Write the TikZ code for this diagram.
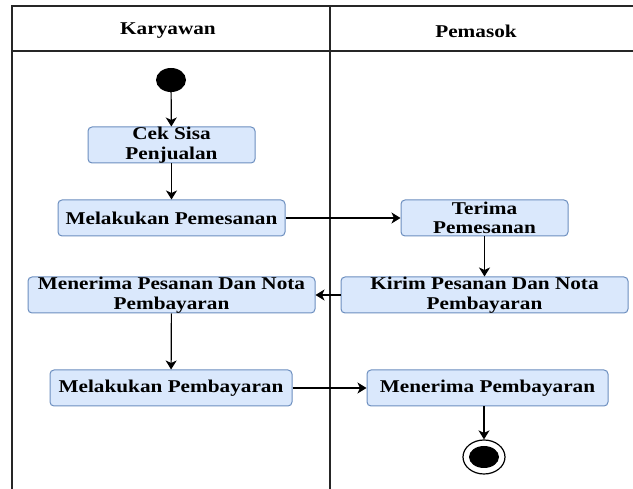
\documentclass[tikz,border=0pt]{standalone}
\usepackage{fontspec}
\setmainfont{Liberation Serif}[FakeStretch=1.18]
\usetikzlibrary{arrows.meta,shapes.geometric}
\definecolor{actfill}{HTML}{DAE8FC}
\definecolor{actline}{HTML}{6C8EBF}
\tikzset{
	act/.style={draw=actline, fill=actfill, line width=1pt, rounded corners=4pt, minimum height=36pt, inner sep=0pt, align=center, font=\fontsize{18}{19.5}\selectfont\bfseries},
	lane/.style={line width=1.4pt, color=black!85},
	flow/.style={line width=1.2pt, -{Stealth[length=9pt, width=11pt, inset=2.5pt]}},
}

\begin{document}
\begin{tikzpicture}[x=1pt, y=-1pt]
			%%%%% START %%%%%
			\useasboundingbox (0, 0) rectangle (633, 489);
			
			% swimlanes
			\draw[lane] (12, 489) -- (12, 6) -- (633, 6);
			\draw[lane] (12, 51) -- (633, 51);
			\draw[lane] (330, 6) -- (330, 489);
			\node[font=\fontsize{18}{19.5}\selectfont\bfseries] (karyawan) at (168, 31) {Karyawan};
			\node[font=\fontsize{18}{19.5}\selectfont\bfseries] (pemasok) at (476, 31) {Pemasok};
			
			% Karyawan
			\node[ellipse, fill=black, minimum width=30pt, minimum height=24pt, inner sep=0pt] (start) at (171, 80) {};
			\node[act, minimum width=167pt] (cek) at (171.5, 145) {Cek Sisa\\Penjualan};
			\node[act, minimum width=227pt] (pesan) at (171.5, 218) {Melakukan Pemesanan};
			\node[act, minimum width=287pt] (terimanota) at (171.5, 295) {Menerima Pesanan Dan Nota\\Pembayaran};
			\node[act, minimum width=242pt] (bayar) at (171, 388) {Melakukan Pembayaran};
			
			% Pemasok
			\node[act, minimum width=167pt] (terima) at (484.5, 218) {Terima\\Pemesanan};
			\node[act, minimum width=287pt] (kirim) at (484.5, 295) {Kirim Pesanan Dan Nota\\Pembayaran};
			\node[act, minimum width=241pt] (terimabayar) at (487.5, 388) {Menerima Pembayaran};
			\node[ellipse, draw=black, line width=1.2pt, minimum width=42pt, minimum height=34pt, inner sep=0pt] (end) at (484, 457) {};
			\node[ellipse, fill=black, minimum width=30pt, minimum height=22pt, inner sep=0pt] (endin) at (484, 457) {};
			
			% alur
			\draw[flow] (start) -- (cek);
			\draw[flow] (cek) -- (pesan);
			\draw[flow] (pesan) -- (terima);
			\draw[flow] (terima) -- (kirim);
			\draw[flow] (kirim) -- (terimanota);
			\draw[flow] (terimanota) -- (bayar);
			\draw[flow] (bayar) -- (terimabayar);
			\draw[flow] (terimabayar.south -| end.north) -- (end);
			
			%%%%% END %%%%%
		\end{tikzpicture}
\end{document}
